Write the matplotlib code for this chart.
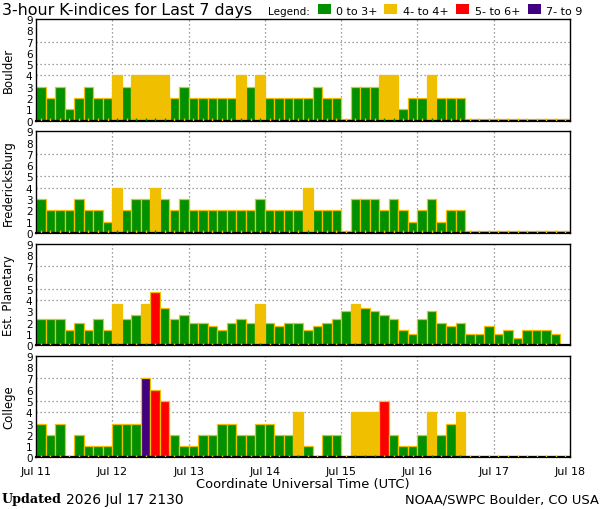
import numpy as np
import matplotlib
matplotlib.use("Agg")
import matplotlib.pyplot as plt
from matplotlib.patches import Rectangle

# ---------------- data ----------------
stations = ["Boulder", "Fredericksburg", "Est. Planetary", "College"]
boulder = [3, 2, 3, 1, 2, 3, 2, 2,
           4, 3, 4, 4, 4, 4, 2, 3,
           2, 2, 2, 2, 2, 4, 3, 4,
           2, 2, 2, 2, 2, 3, 2, 2,
           0, 3, 3, 3, 4, 4, 1, 2,
           2, 4, 2, 2, 2, 0, 0, 0,
           0, 0, 0, 0, 0, 0, 0, 0]
fredericksburg = [3, 2, 2, 2, 3, 2, 2, 1,
                  4, 2, 3, 3, 4, 3, 2, 3,
                  2, 2, 2, 2, 2, 2, 2, 3,
                  2, 2, 2, 2, 4, 2, 2, 2,
                  0, 3, 3, 3, 2, 3, 2, 1,
                  2, 3, 1, 2, 2, 0, 0, 0,
                  0, 0, 0, 0, 0, 0, 0, 0]
planetary = [2.33, 2.33, 2.33, 1.33, 2, 1.33, 2.33, 1.33,
             3.67, 2.33, 2.67, 3.67, 4.67, 3.33, 2.33, 2.67,
             2, 2, 1.67, 1.33, 2, 2.33, 2, 3.67,
             2, 1.67, 2, 2, 1.33, 1.67, 2, 2.33,
             3, 3.67, 3.33, 3, 2.67, 2.33, 1.33, 1,
             2.33, 3, 2, 1.67, 2, 1, 1, 1.67,
             1, 1.33, 0.67, 1.33, 1.33, 1.33, 1]
college = [3, 2, 3, 0, 2, 1, 1, 1,
           3, 3, 3, 7, 6, 5, 2, 1,
           1, 2, 2, 3, 3, 2, 2, 3,
           3, 2, 2, 4, 1, 0, 2, 2,
           0, 4, 4, 4, 5, 2, 1, 1,
           2, 4, 2, 3, 4, 0, 0, 0,
           0, 0, 0, 0, 0, 0, 0, 0]
series = [boulder, fredericksburg, planetary, college]
day_labels = ["Jul 11", "Jul 12", "Jul 13", "Jul 14", "Jul 15", "Jul 16", "Jul 17", "Jul 18"]
legend_labels = ["0 to 3+", "4- to 4+", "5- to 6+", "7- to 9"]

GREEN = "#009000"
YELLOW = "#F0C000"
RED = "#FF0000"
PURPLE = "#400080"
legend_colors = [GREEN, YELLOW, RED, PURPLE]


def kcolor(v):
    if v < 3.5:
        return GREEN
    if v < 4.5:
        return YELLOW
    if v < 6.5:
        return RED
    return PURPLE


W, H = 600, 510
fig = plt.figure(figsize=(W / 100, H / 100), dpi=100)
fig.patch.set_facecolor("white")

left = 36 / W
width = 534 / W
tops = [20, 132.3, 244.6, 356.9]
ph = 101.5

ndays = 7
per_day = 8
for i, (name, vals) in enumerate(zip(stations, series)):
    ax = fig.add_axes([left, 1 - (tops[i] + ph) / H, width, ph / H])
    vals = np.asarray(vals, dtype=float)
    x = np.arange(len(vals)) / per_day  # in days
    cols = [kcolor(v) for v in vals]
    disp = np.maximum(vals, 0.12)
    ax.bar(x, disp, width=1 / per_day, align="edge", color=cols,
           edgecolor=YELLOW, linewidth=0.9, zorder=2)
    # small tick marks at bar centres
    tcols = [GREEN if c == YELLOW else YELLOW for c in cols]
    ax.vlines(x + 0.5 / per_day, 0, 0.22, colors=tcols, linewidth=1.0, zorder=3)
    ax.set_xlim(0, ndays)
    ax.set_ylim(0, 9)
    ax.set_yticks(range(10))
    ax.set_yticklabels([str(k) for k in range(10)], fontsize=7.5)
    ax.tick_params(axis="y", length=0, pad=2.5)
    ax.set_xticks(range(ndays + 1))
    if i == 3:
        ax.set_xticklabels(day_labels, fontsize=8)
        ax.tick_params(axis="x", length=0, pad=6)
    else:
        ax.set_xticklabels([])
        ax.tick_params(axis="x", length=0)
    for d in range(1, ndays):
        ax.axvline(d, color="#808080", linewidth=0.9, linestyle=(0, (1, 2.2)), zorder=1)
    for yv in (4, 5, 7):
        ax.axhline(yv, color="#808080", linewidth=0.9, linestyle=(0, (1, 2.2)), zorder=1)
    for s in ax.spines.values():
        s.set_color("black")
        s.set_linewidth(1.0)
    ax.spines["bottom"].set_linewidth(1.6)
    ax.set_ylabel(name, fontsize=8.4)
    ax.yaxis.set_label_coords(-21 / 534, 0.5)

# title
fig.text(2 / W, 1 - 11 / H, "3-hour K-indices for Last 7 days", fontsize=11.4,
         ha="left", va="center")
# legend
fig.text(268 / W, 1 - 12 / H, "Legend:", fontsize=7.5, ha="left", va="center")
sq_x = [318, 384, 456, 528]
lab_x = [336, 403, 475, 546]
for c, lab, sx, lx in zip(legend_colors, legend_labels, sq_x, lab_x):
    fig.patches.append(Rectangle((sx / W, 1 - 14.7 / H), 13 / W, 10 / H,
                                 transform=fig.transFigure, facecolor=c,
                                 edgecolor="none"))
    fig.text(lx / W, 1 - 12 / H, lab, fontsize=8, ha="left", va="center")

fig.text(303 / W, 1 - 485 / H, "Coordinate Universal Time (UTC)", fontsize=9.4,
         ha="center", va="center")
fig.text(2 / W, 1 - 500 / H, "Updated", fontsize=9.2, family="DejaVu Serif",
         weight="bold", ha="left", va="center")
fig.text(66 / W, 1 - 500 / H, "2026 Jul 17 2130", fontsize=10, ha="left", va="center")
fig.text(599 / W, 1 - 500 / H, "NOAA/SWPC Boulder, CO USA", fontsize=9.4,
         ha="right", va="center")

fig.savefig("out.png", dpi=100)
